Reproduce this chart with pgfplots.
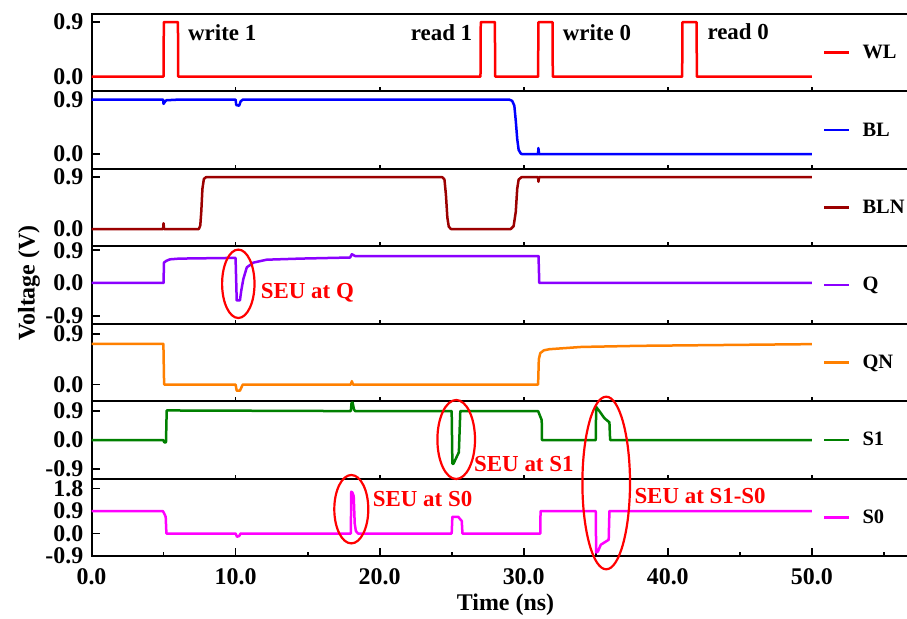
\documentclass[border=0pt]{standalone}
\usepackage{pgfplots}
\pgfplotsset{compat=1.18}
\usepackage{fontspec}
\setmainfont{Liberation Serif}
\definecolor{cWL}{HTML}{FF0000}
\definecolor{cBL}{HTML}{0000FF}
\definecolor{cBLN}{HTML}{9B0000}
\definecolor{cQ}{HTML}{8B00FF}
\definecolor{cQN}{HTML}{FF8000}
\definecolor{cS1}{HTML}{008000}
\definecolor{cS0}{HTML}{FF00FF}
\newcommand{\tickfont}{\bfseries\fontsize{24}{24}\selectfont}
\newcommand{\annfont}{\bfseries\fontsize{23}{23}\selectfont}
\begin{document}
\begin{tikzpicture}[x=1bp,y=1bp]
\pgfplotsset{
 panel/.style={
  scale only axis, width=818bp, height=77.43bp,
  xmin=0, xmax=56.78,
  axis line style={line width=2bp},
  tick style={line width=1.8bp, black},
  tick align=inside,
  major tick length=8bp,
  minor tick length=4bp,
  xtick={10,20,30,40,50}, xticklabels={},
  xtick pos=left, ytick pos=left,
  x tick style={/pgfplots/major tick length=4bp},
  yticklabel style={font=\tickfont, inner sep=0pt, anchor=east, xshift=-8bp},
  legend style={at={(0.894,0.5)}, anchor=west, draw=none, fill=none,
    inner sep=0pt, nodes={inner sep=0pt}, column sep=12bp,
    font=\bfseries\fontsize{20.5}{20.5}\selectfont},
  legend image code/.code={\draw[##1] (0bp,0bp) -- (25bp,0bp);},
  every axis plot/.append style={line width=2.5bp, line join=round},
 }
}
% WL
\begin{axis}[panel, at={(91.5bp,527.6bp)}, anchor=south west,
  ymin=-0.243, ymax=1.035, ytick={0,0.9}, yticklabels={0.0,0.9}]
\addplot[cWL] coordinates {(0,0) (5.0,0) (5.02,0.9) (6.0,0.9) (6.02,0) (27.0,0) (27.02,0.9) (28.0,0.9) (28.02,0) (31.0,0) (31.02,0.9) (32.0,0.9) (32.02,0) (41.0,0) (41.02,0.9) (42.0,0.9) (42.02,0) (50,0)};
\addlegendentry{WL}
\end{axis}
% BL
\begin{axis}[panel, at={(91.5bp,450.1bp)}, anchor=south west,
  ymin=-0.243, ymax=1.035, ytick={0,0.9}, yticklabels={0.0,0.9}]
\addplot[cBL] coordinates {(0,0.9) (4.97,0.9) (5.0,0.83) (5.08,0.86) (5.2,0.89) (6.0,0.9) (10.0,0.9) (10.05,0.81) (10.25,0.8) (10.35,0.87) (10.5,0.9) (29.0,0.9) (29.2,0.88) (29.35,0.8) (29.45,0.55) (29.55,0.25) (29.65,0.07) (29.8,0.01) (29.9,0.0) (31.0,0.0) (31.02,0.1) (31.07,0.0) (50,0)};
\addlegendentry{BL}
\end{axis}
% BLN
\begin{axis}[panel, at={(91.5bp,372.7bp)}, anchor=south west,
  ymin=-0.30, ymax=1.045, ytick={0,0.9}, yticklabels={0.0,0.9}]
\addplot[cBLN] coordinates {(0,0) (4.97,0) (5.0,0.1) (5.04,0.0) (7.45,0) (7.55,0.06) (7.62,0.3) (7.7,0.7) (7.8,0.87) (7.95,0.9) (24.35,0.9) (24.5,0.86) (24.6,0.6) (24.7,0.2) (24.8,0.04) (24.95,0) (29.1,0) (29.3,0.05) (29.45,0.3) (29.55,0.7) (29.65,0.86) (29.85,0.9) (31.0,0.9) (31.02,0.82) (31.07,0.9) (50,0.9)};
\addlegendentry{BLN}
\end{axis}
% Q
\begin{axis}[panel, at={(91.5bp,295.3bp)}, anchor=south west,
  ymin=-1.118, ymax=1.009, ytick={-0.9,0,0.9}, yticklabels={-0.9,0.0,0.9}]
\addplot[cQ] coordinates {(0,0) (5.0,0) (5.03,0.56) (5.2,0.61) (5.45,0.65) (6.1,0.67) (10.0,0.69) (10.08,-0.48) (10.3,-0.48) (10.4,-0.2) (10.54,0.11) (10.78,0.43) (11.24,0.56) (12.16,0.64) (14.5,0.67) (17.95,0.70) (18.07,0.79) (18.3,0.74) (31.03,0.74) (31.08,0) (50,0)};
\addlegendentry{Q}
\end{axis}
% QN
\begin{axis}[panel, at={(91.5bp,217.9bp)}, anchor=south west,
  ymin=-0.295, ymax=1.085, ytick={0,0.9}, yticklabels={0.0,0.9}]
\addplot[cQN] coordinates {(0,0.725) (4.99,0.725) (5.04,0.0) (10.0,0) (10.08,-0.11) (10.3,-0.11) (10.5,0.0) (18.0,0) (18.07,0.06) (18.15,0) (31.0,0) (31.05,0.45) (31.15,0.56) (31.4,0.61) (31.8,0.63) (34,0.67) (38,0.69) (42,0.70) (50,0.72)};
\addlegendentry{QN}
\end{axis}
% S1
\begin{axis}[panel, at={(91.5bp,140.4bp)}, anchor=south west,
  ymin=-1.2, ymax=1.209, ytick={-0.9,0,0.9}, yticklabels={-0.9,0.0,0.9}]
\addplot[cS1] coordinates {(0,0) (4.98,0) (5.05,-0.07) (5.17,-0.07) (5.22,0.92) (18.0,0.9) (18.05,1.15) (18.12,1.17) (18.22,0.95) (18.3,0.9) (25.0,0.9) (25.05,-0.74) (25.12,-0.74) (25.5,-0.38) (25.6,0.9) (31.0,0.9) (31.25,0.62) (31.27,0.0) (35.0,0.0) (35.03,1.03) (35.3,0.87) (35.6,0.68) (35.95,0.55) (36.0,0.0) (50,0)};
\addlegendentry{S1}
\end{axis}
% S0
\begin{axis}[panel, at={(91.5bp,63bp)}, anchor=south west,
  ymin=-0.9, ymax=2.2, ytick={-0.9,0,0.9,1.8}, yticklabels={-0.9,0.0,0.9,1.8},
  xtick={0,10,20,30,40,50}, xticklabels={0.0,10.0,20.0,30.0,40.0,50.0},
  minor xtick={5,15,25,35,45,55},
  x tick style={/pgfplots/major tick length=8bp},
  xticklabel style={font=\tickfont, inner sep=0pt, anchor=north, yshift=-12bp}]
\addplot[cS0] coordinates {(0,0.9) (4.95,0.9) (5.05,0.8) (5.15,0.67) (5.2,0.0) (10.0,0) (10.1,-0.13) (10.25,-0.1) (10.35,0.0) (18.0,0) (18.03,1.67) (18.1,1.65) (18.2,1.5) (18.27,0.4) (18.35,0.1) (18.5,0) (25.0,0) (25.05,0.67) (25.45,0.67) (25.7,0.5) (25.75,0) (31.15,0) (31.17,0.9) (35.0,0.9) (35.03,-0.76) (35.15,-0.72) (35.35,-0.45) (35.9,-0.25) (35.95,0.9) (50,0.9)};
\addlegendentry{S0}
\end{axis}
% labels
\node[rotate=90, font=\bfseries\fontsize{24}{24}\selectfont, inner sep=0pt] at (29,336) {Voltage (V)};
\node[font=\bfseries\fontsize{24}{24}\selectfont, inner sep=0pt] at (505.5,14) {Time (ns)};
% annotations
\node[anchor=base west, inner sep=0pt, font=\annfont] at (188,578.3) {write 1};
\node[anchor=base west, inner sep=0pt, font=\annfont] at (410.7,578.3) {read 1};
\node[anchor=base west, inner sep=0pt, font=\annfont] at (562.7,578.3) {write 0};
\node[anchor=base west, inner sep=0pt, font=\annfont] at (707.3,579) {read 0};
\node[anchor=base west, inner sep=0pt, font=\annfont, text=red] at (260.7,320.7) {SEU at Q};
\node[anchor=base west, inner sep=0pt, font=\annfont, text=red] at (474,147.3) {SEU at S1};
\node[anchor=base west, inner sep=0pt, font=\annfont, text=red] at (372.7,112.3) {SEU at S0};
\node[anchor=base west, inner sep=0pt, font=\annfont, text=red] at (634.3,115.7) {SEU at S1-S0};
\draw[red, line width=2.2bp] (238.3,335.2) ellipse [x radius=16.2, y radius=34.2];
\draw[red, line width=2.2bp] (456.2,179.5) ellipse [x radius=18.8, y radius=39.5];
\draw[red, line width=2.2bp] (351.3,109.8) ellipse [x radius=17, y radius=34.2];
\draw[red, line width=2.2bp] (606.2,136) ellipse [x radius=23.8, y radius=86.3];
\pgfresetboundingbox
\path[use as bounding box] (0,0) rectangle (907,619);
\end{tikzpicture}
\end{document}
